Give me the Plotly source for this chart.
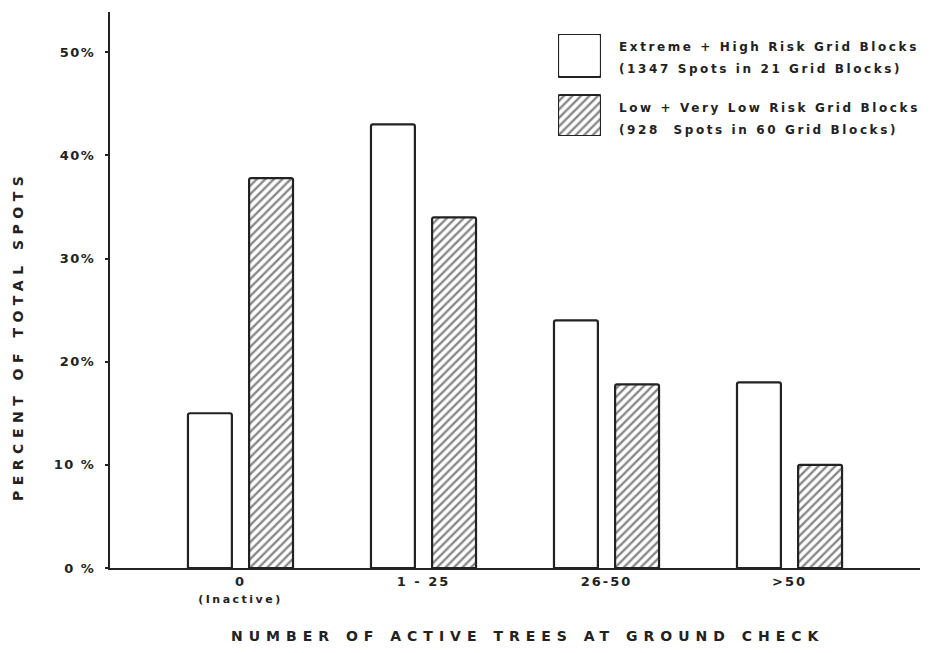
import plotly.graph_objects as go

# ---- data ----
categories = ["0", "1 - 25", "26-50", ">50"]
tick_labels = ["0", "1 - 25", "26-50", ">50"]
tick_sub = "(Inactive)"
high_risk = [15, 43, 24, 18]
low_risk = [37.8, 34, 17.8, 10]
y_tickvals = [0, 10, 20, 30, 40, 50]
y_ticktext = ["0 %", "10 %", "20%", "30%", "40%", "50%"]
series_names = ["Extreme + High Risk Grid Blocks", "Low + Very Low Risk Grid Blocks"]
series_sub = ["(1347 Spots in 21 Grid Blocks)", "(928  Spots in 60 Grid Blocks)"]
y_title = "PERCENT OF TOTAL SPOTS"
x_title = "NUMBER OF ACTIVE TREES AT GROUND CHECK"

INK = "#222222"
FONT = "DejaVu Sans"

# page has an 8px body margin; figure sized to fit the 941x653 window
OFF = 8
W, H = 941 - 2 * OFF, 653 - 2 * OFF
PL, PR, PT, PB = 110, 920, 12, 568          # plot area in window pixels
ML, MR, MT, MB = PL - OFF, W - (PR - OFF), PT - OFF, H - (PB - OFF)

def px_x(x):
    return (x - PL) / (PR - PL)

def px_y(y):
    return (PB - y) / (PB - PT)

def spaced(text, ls, size=None):
    st = f"letter-spacing:{ls}px"
    if size:
        st += f";font-size:{size}px"
    return f"<span style='{st}'>{text}</span>"

hatch = dict(shape="/", fgcolor="#111111", bgcolor="white", size=6, solidity=0.4)

fig = go.Figure()

fig.add_trace(go.Bar(
    x=categories, y=high_risk, name=series_names[0],
    width=0.24, offset=-0.287,
    marker=dict(color="white", line=dict(color=INK, width=2.2), cornerradius=2),
    showlegend=False,
))
fig.add_trace(go.Bar(
    x=categories, y=low_risk, name=series_names[1],
    width=0.24, offset=0.047,
    marker=dict(color="white", line=dict(color=INK, width=2.2), cornerradius=2, pattern=hatch),
    showlegend=False,
))

# legend swatches drawn as bars on a small auxiliary axis
fig.add_trace(go.Bar(
    x=[0.5], y=[43], base=[59], width=1, xaxis="x2", yaxis="y2",
    marker=dict(color="white", line=dict(color=INK, width=2.2), cornerradius=2),
    showlegend=False, hoverinfo="skip",
))
fig.add_trace(go.Bar(
    x=[0.5], y=[41], base=[0], width=1, xaxis="x2", yaxis="y2",
    marker=dict(color="white", line=dict(color=INK, width=2.2), cornerradius=2, pattern=hatch),
    showlegend=False, hoverinfo="skip",
))

xt = [spaced(t, 2) for t in tick_labels]
xt[0] = xt[0] + "<br>" + spaced(tick_sub, 2.5, 11)

fig.update_layout(
    width=W, height=H,
    margin=dict(l=ML, r=MR, t=MT, b=MB, autoexpand=False),
    paper_bgcolor="white", plot_bgcolor="white",
    barmode="overlay",
    font=dict(family=FONT, color=INK),
    xaxis=dict(
        type="category", categoryorder="array", categoryarray=categories,
        range=[-0.713, 3.713],
        tickvals=categories, ticktext=xt,
        showline=True, linecolor=INK, linewidth=2,
        ticks="", showgrid=False, zeroline=False,
        tickfont=dict(family=FONT, size=13, color=INK, weight="bold"),
    ),
    yaxis=dict(
        range=[0, 53.9], tickvals=y_tickvals, ticktext=[spaced(t, 1.5) for t in y_ticktext],
        showline=True, linecolor=INK, linewidth=2,
        ticks="outside", ticklen=3, tickcolor=INK, tickwidth=2,
        ticklabelstandoff=7,
        showgrid=False, zeroline=False,
        tickfont=dict(family=FONT, size=13, color=INK, weight="bold"),
    ),
    xaxis2=dict(domain=[px_x(558), px_x(601)], range=[0, 1], visible=False, anchor="y2"),
    yaxis2=dict(domain=[px_y(136), px_y(34)], range=[0, 102], visible=False, anchor="x2"),
)

legend_font = dict(family=FONT, size=12, color=INK, weight="bold")
for txt, yy in [(series_names[0], 47), (series_sub[0], 69), (series_names[1], 108), (series_sub[1], 130)]:
    fig.add_annotation(text=spaced(txt, 2.6), x=px_x(617), y=px_y(yy), xref="paper", yref="paper",
                       xanchor="left", yanchor="middle", showarrow=False, font=legend_font)

fig.add_annotation(text=spaced(y_title, 5.5), x=px_x(18), y=px_y(336), xref="paper", yref="paper",
                   textangle=-90, showarrow=False, xanchor="center", yanchor="middle",
                   font=dict(family=FONT, size=14, color=INK, weight="bold"))
fig.add_annotation(text=spaced(x_title, 6), x=px_x(527), y=px_y(636), xref="paper", yref="paper",
                   showarrow=False, xanchor="center", yanchor="middle",
                   font=dict(family=FONT, size=14, color=INK, weight="bold"))

fig.write_html("out.html")
